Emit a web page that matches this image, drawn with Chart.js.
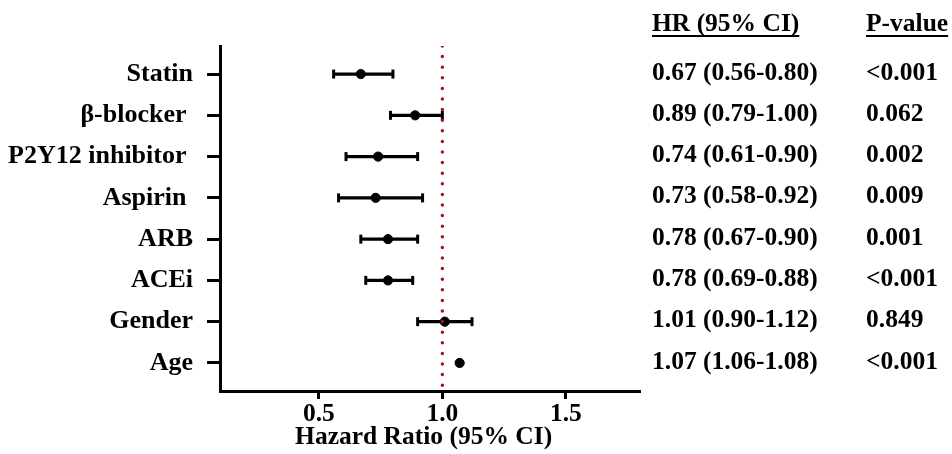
<!DOCTYPE html>
<html>
<head>
<meta charset="utf-8">
<script src="https://cdn.jsdelivr.net/npm/chart.js@4.4.1/dist/chart.umd.min.js"></script>
<style>
  html, body { margin: 0; padding: 0; background: #fff; }
  #wrap { width: 952px; height: 454px; }
</style>
</head>
<body>
<div id="wrap"><canvas id="c" width="952" height="454"></canvas></div>
<script>
// ---- data ----
const categories = ["Statin", "β-blocker ", "P2Y12 inhibitor ", "Aspirin ", "ARB", "ACEi", "Gender", "Age"];
const hr   = [0.67, 0.89, 0.74, 0.73, 0.78, 0.78, 1.01, 1.07];
const ciLo = [0.56, 0.79, 0.61, 0.58, 0.67, 0.69, 0.90, 1.06];
const ciHi = [0.80, 1.00, 0.90, 0.92, 0.90, 0.88, 1.12, 1.08];
const pValues = ["<0.001", "0.062", "0.002", "0.009", "0.001", "<0.001", "0.849", "<0.001"];
const xTicks = [0.5, 1.0, 1.5];
const refLine = 1.0;
const xRange = [0.1, 1.8];
const yRange = [-0.68, 7.68];

const FONT = "'Liberation Serif', 'Times New Roman', serif";

const datasets = [];
// reference dotted line
datasets.push({
  type: 'line',
  data: [{x: refLine, y: yRange[0]}, {x: refLine, y: yRange[1]}],
  borderColor: '#a3171c',
  borderWidth: 3.5,
  borderDash: [0, 10.6],
  borderCapStyle: 'round',
  pointRadius: 0,
  showLine: true,
  fill: false
});
// CI bars
categories.forEach((c, i) => {
  datasets.push({
    type: 'line',
    data: [{x: ciLo[i], y: i}, {x: ciHi[i], y: i}],
    borderColor: '#000',
    borderWidth: 3.2,
    pointStyle: 'line',
    rotation: 90,
    pointRadius: (ctx) => {
      const sx = ctx.chart.scales.x;
      const span = Math.abs(sx.getPixelForValue(ciHi[i]) - sx.getPixelForValue(ciLo[i]));
      return span < 10 ? 0 : 4.5;
    },
    pointBorderWidth: 3,
    pointBorderColor: '#000',
    showLine: true,
    fill: false
  });
});
// HR points
datasets.push({
  type: 'scatter',
  data: hr.map((v, i) => ({x: v, y: i})),
  backgroundColor: '#000',
  borderColor: '#000',
  pointRadius: 4.6,
  pointStyle: 'circle'
});

const tablePlugin = {
  id: 'table',
  afterDraw(chart) {
    const ctx = chart.ctx;
    const y = chart.scales.y;
    ctx.save();
    ctx.fillStyle = '#000';
    ctx.strokeStyle = '#000';
    ctx.textBaseline = 'middle';
    ctx.textAlign = 'left';
    ctx.font = "bold 25.5px " + FONT;
    const hx = 652, px = 866;
    const headers = [["HR (95% CI)", hx], ["P-value", px]];
    headers.forEach(([t, x]) => {
      ctx.fillText(t, x, 24);
      const w = ctx.measureText(t).width;
      ctx.lineWidth = 2;
      ctx.beginPath();
      ctx.moveTo(x, 36);
      ctx.lineTo(x + w, 36);
      ctx.stroke();
    });
    categories.forEach((c, i) => {
      const yy = y.getPixelForValue(i) - 1;
      const txt = hr[i].toFixed(2) + " (" + ciLo[i].toFixed(2) + "-" + ciHi[i].toFixed(2) + ")";
      ctx.fillText(txt, hx, yy);
      ctx.fillText(pValues[i], px, yy);
    });
    ctx.restore();
  }
};

new Chart(document.getElementById('c'), {
  type: 'scatter',
  data: { datasets },
  plugins: [tablePlugin],
  options: {
    responsive: false,
    animation: false,
    devicePixelRatio: 1,
    layout: { padding: { left: 0, top: 46, right: 312, bottom: 0 } },
    plugins: { legend: { display: false }, tooltip: { enabled: false } },
    scales: {
      x: {
        type: 'linear',
        min: xRange[0], max: xRange[1],
        afterBuildTicks: (s) => { s.ticks = xTicks.map(v => ({value: v})); },
        afterFit: (s) => { s.height = 63; },
        ticks: {
          callback: (v) => Number(v).toFixed(1),
          color: '#000',
          font: { family: FONT, size: 25.5, weight: 'bold' },
          padding: 0,
          maxRotation: 0, autoSkip: false
        },
        grid: { display: true, drawOnChartArea: false, drawTicks: true, tickLength: 8, tickWidth: 3, tickColor: '#000' },
        border: { display: true, color: '#000', width: 3 },
        title: {
          display: true, text: 'Hazard Ratio (95% CI)  ', color: '#000',
          font: { family: FONT, size: 25.5, weight: 'bold' },
          padding: { top: 0, bottom: 1 }
        }
      },
      y: {
        type: 'linear',
        reverse: true,
        min: yRange[0], max: yRange[1],
        afterBuildTicks: (s) => { s.ticks = categories.map((c, i) => ({value: i})); },
        afterFit: (s) => { s.width = 220; },
        ticks: {
          callback: (v) => categories[v],
          color: '#000',
          font: { family: FONT, size: 26, weight: 'bold' },
          padding: 14,
          autoSkip: false
        },
        grid: { display: true, drawOnChartArea: false, drawTicks: true, tickLength: 13, tickWidth: 3, tickColor: '#000' },
        border: { display: true, color: '#000', width: 3 }
      }
    }
  }
});
</script>
</body>
</html>
